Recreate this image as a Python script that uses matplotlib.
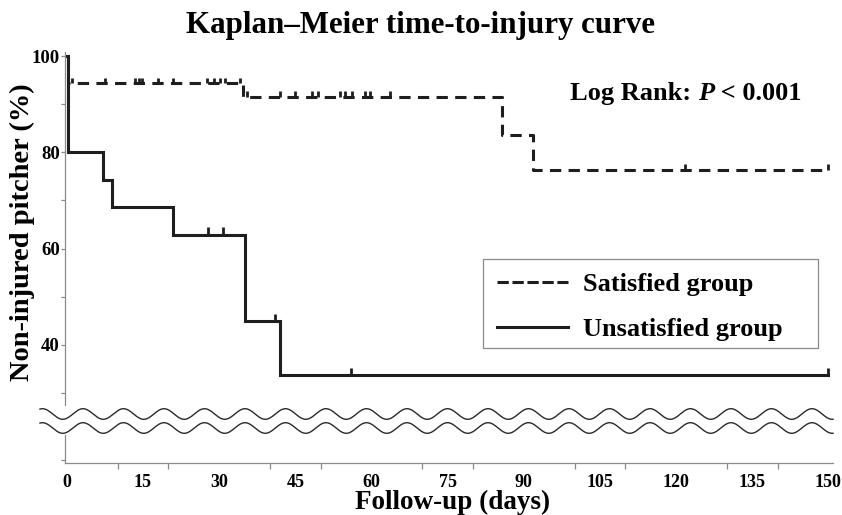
import numpy as np
import matplotlib
matplotlib.use("Agg")
import matplotlib.pyplot as plt
from matplotlib.lines import Line2D
from matplotlib.patches import Rectangle

# ---------------- data ----------------
unsat_times = [0, 0.3, 7.1, 9.0, 21.0, 35.0, 42.0, 150]
unsat_surv = [100, 80.0, 74.3, 68.6, 62.9, 44.9, 33.7, 33.7]
unsat_censor = [27.9, 30.8, 41.0, 55.9, 150]

sat_times = [0, 0.3, 34.8, 85.7, 91.8, 150]
sat_surv = [100, 94.3, 91.5, 83.6, 76.3, 76.3]
sat_censor = [1.0, 7.5, 13.5, 14.2, 14.8, 18.0, 21.0, 27.6, 28.9, 30.2, 31.2,
              34.1, 35.5, 42.0, 45.0, 48.2, 49.5, 53.8, 54.8, 56.1, 58.8, 59.8,
              63.7, 121.8, 150]

xtick_labels = [0, 15, 30, 45, 60, 75, 90, 105, 120, 135, 150]
xtick_marks = [0, 10, 20, 30, 40, 50, 60, 70, 80, 90, 100, 110, 120, 130, 140, 150]
ytick_labels = [40, 60, 80, 100]
ytick_marks = [30, 50, 70, 90]

title = "Kaplan\u2013Meier time-to-injury curve"
xlabel = "Follow-up (days)"
ylabel = "Non-injured pitcher (%)"
legend_labels = ["Satisfied group", "Unsatisfied group"]

# ---------------- figure ----------------
W, H = 842, 515
plt.rcParams['font.family'] = ['Liberation Serif', 'DejaVu Serif']
plt.rcParams['font.weight'] = 'bold'
fig = plt.figure(figsize=(W / 100, H / 100), dpi=100)

def fx(px):
    return px / W

def fy(py):
    return 1 - py / H

ax_left, ax_right = 64.5, 833
top_top, top_bot = 52, 405
bot_top, bot_bot = 435, 463
ax = fig.add_axes([fx(ax_left), fy(top_bot), fx(ax_right - ax_left), (top_bot - top_top) / H])
axb = fig.add_axes([fx(ax_left), fy(bot_bot), fx(ax_right - ax_left), (bot_bot - bot_top) / H])

xlim = (-0.45, 150.9)
pxu = 4.814
ax.set_xlim(*xlim)
ax.set_ylim(100 - (top_bot - 56) / pxu, 100 + (56 - top_top) / pxu)
axb.set_xlim(*xlim)
axb.set_ylim(-(bot_bot - 460) / pxu, (460 - bot_top) / pxu)

axis_col = '#8a8a8a'
line_col = '#1e1e1e'
lw = 2.2

ax.step(sat_times, sat_surv, where='post', color=line_col, lw=lw,
        linestyle=(0, (3.7, 2.4)), solid_joinstyle='miter', dash_capstyle='butt')
ax.step(unsat_times, unsat_surv, where='post', color=line_col, lw=lw,
        solid_joinstyle='miter')

def surv_at(times, surv, t):
    i = np.searchsorted(times, t, side='right') - 1
    return np.asarray(surv)[np.clip(i, 0, len(surv) - 1)]

sc = surv_at(sat_times, sat_surv, np.array(sat_censor))
ax.vlines(sat_censor, sc, sc + 1.2, color=line_col, lw=2.0)
uc = surv_at(unsat_times, unsat_surv, np.array(unsat_censor))
ax.vlines(unsat_censor, uc, uc + 1.5, color=line_col, lw=2.0)

# spines / ticks
for a in (ax, axb):
    for s in ('top', 'right'):
        a.spines[s].set_visible(False)
    a.spines['left'].set_color(axis_col)
    a.spines['left'].set_linewidth(0.9)
ax.spines['bottom'].set_visible(False)
axb.spines['bottom'].set_color(axis_col)
axb.spines['bottom'].set_linewidth(0.9)

ax.set_xticks([])
ax.set_yticks(ytick_labels)
ax.set_yticklabels([str(v) for v in ytick_labels], fontsize=13.5, fontweight='bold')
ax.set_yticks(ytick_marks, minor=True)
ax.tick_params(axis='y', which='both', direction='out', length=3, width=0.9,
               color=axis_col, pad=0.5)

axb.set_yticks([0])
axb.set_yticklabels([''])
axb.tick_params(axis='y', direction='out', length=3, width=0.9, color=axis_col)
axb.set_xticks(xtick_labels)
axb.set_xticklabels([str(v) for v in xtick_labels], fontsize=13, fontweight='bold')
axb.set_xticks(xtick_marks, minor=True)
axb.tick_params(axis='x', which='major', length=0, pad=8)
axb.tick_params(axis='x', which='minor', direction='out', length=4, width=0.9,
                color=axis_col)
axb.patch.set_visible(False)
ax.patch.set_visible(False)

# break waves
ov = fig.add_axes([0, 0, 1, 1], zorder=5)
ov.set_xlim(0, W)
ov.set_ylim(H, 0)
ov.axis('off')
xs = np.linspace(40, 833, 2000)
period = 40.5
for cy in (414, 428):
    ov.plot(xs, cy - 5.3 * np.cos(2 * np.pi * (xs - 83) / period), color='#2a2a2a', lw=1.0)

# texts
fig.text(fx(421), fy(33), title, ha='center', va='baseline', fontsize=22.3, fontweight='bold')
fig.text(fx(453), fy(509), xlabel, ha='center', va='baseline', fontsize=19.5, fontweight='bold')
fig.text(fx(22), fy(232), ylabel, ha='center', va='center', rotation=90,
         fontsize=20.5, fontweight='bold')

t1 = fig.text(fx(570), fy(100), "Log Rank: ", ha='left', va='baseline', fontsize=19, fontweight='bold')
t2 = ov.annotate("P", xy=(1, 0), xycoords=t1, ha='left', va='bottom', fontsize=19,
                 fontweight='bold', fontstyle='italic')
t3 = ov.annotate(" < 0.001", xy=(1, 0), xycoords=t2, ha='left', va='bottom', fontsize=19,
                 fontweight='bold')

# legend box
ov.add_patch(Rectangle((483, 259), 335, 89, fill=False, edgecolor='#8a8a8a', lw=0.9))
handles = [Line2D([], [], color=line_col, lw=lw, linestyle=(0, (3.7, 1.2))),
           Line2D([], [], color=line_col, lw=lw)]
leg = fig.legend(handles, legend_labels, loc='upper left',
                 bbox_to_anchor=(fx(497), fy(273)), bbox_transform=fig.transFigure,
                 prop={'family': 'Liberation Serif', 'weight': 'bold', 'size': 19},
                 frameon=False, handlelength=2.7, handletextpad=0.57,
                 labelspacing=0.8, borderpad=0, borderaxespad=0)

fig.savefig("out.png", dpi=100)
